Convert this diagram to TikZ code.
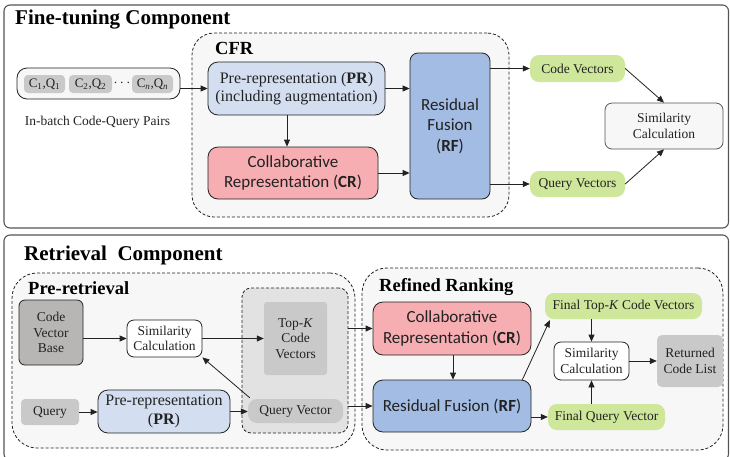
\documentclass[tikz,border=0pt]{standalone}
\usepackage{fontspec}
\setmainfont{Liberation Serif}
\newfontfamily\carl{Carlito}
\usetikzlibrary{arrows.meta,calc}
\definecolor{framec}{HTML}{555555}
\definecolor{linec}{HTML}{222222}
\definecolor{dashfill}{HTML}{F7F7F7}
\definecolor{boxgray}{HTML}{C9C9C9}
\definecolor{prblue}{HTML}{D3DFF0}
\definecolor{crpink}{HTML}{F7AEB3}
\definecolor{rfblue}{HTML}{A3BCE3}
\definecolor{vgreen}{HTML}{CFE79B}
\definecolor{topkfill}{HTML}{E2E2E2}
\definecolor{cvbgray}{HTML}{B8B6B4}
\newcommand{\fsmall}{\fontsize{13.5}{15.5}\selectfont}
\newcommand{\fmid}{\fontsize{16}{18.5}\selectfont}
\newcommand{\fsans}{\carl\fontsize{17}{20.5}\selectfont}
\newcommand{\ftitle}{\fontsize{21}{24}\selectfont\bfseries}
\newcommand{\fsub}{\fontsize{18.5}{21}\selectfont\bfseries}
\tikzset{
  frame/.style={draw=framec, line width=1.1pt, rounded corners=6pt, fill=white},
  dashbox/.style={draw=linec, dash pattern=on 3pt off 2pt, line width=0.8pt, fill=dashfill, rounded corners=22pt},
  base/.style={inner sep=0pt, align=center, text=linec, font=\fsmall},
  graybox/.style={base, fill=boxgray, rounded corners=4pt},
  prbox/.style={base, font=\fmid, fill=prblue, draw=linec, line width=0.8pt, rounded corners=10pt},
  crbox/.style={base, font=\fsans, fill=crpink, draw=linec, line width=0.8pt, rounded corners=10pt},
  rfbox/.style={base, font=\fsans, fill=rfblue, draw=linec, line width=0.8pt, rounded corners=8pt},
  greenbox/.style={base, fill=vgreen, rounded corners=9pt},
  simbox/.style={base, fill=white, draw=linec, line width=0.8pt, rounded corners=7pt},
  ttl/.style={inner sep=0pt, anchor=west, text=black, font=\ftitle},
  subttl/.style={inner sep=0pt, anchor=west, text=black, font=\fsub},
  arr/.style={draw=linec, line width=0.8pt, -{Triangle[length=7pt,width=6pt]}},
}
\begin{document}
\begin{tikzpicture}[x=1pt,y=-1pt]
\useasboundingbox (0,0) rectangle (730,456);
% ---------------- Fine-tuning component ----------------
\draw[frame] (4,5) rectangle (728.5,228);
\node[ttl] (t1) at (15,20) {Fine-tuning Component};
\node[dashbox, minimum width=317pt, minimum height=184pt, inner sep=0pt] (cfr) at (350.5,125) {};
\node[subttl] (cfrl) at (215,48) {CFR};

\node[base, draw=linec, line width=0.8pt, fill=dashfill, rounded corners=10pt, minimum width=163pt, minimum height=31pt] (pairs) at (98.5,83.5) {};
\node[graybox, font=\fontsize{13}{15}\selectfont, minimum width=41pt, minimum height=18pt] (c1) at (44.5,84) {C\textsubscript{1},Q\textsubscript{1}};
\node[graybox, font=\fontsize{13}{15}\selectfont, minimum width=43pt, minimum height=18pt] (c2) at (90.5,84) {C\textsubscript{2},Q\textsubscript{2}};
\node[base] (dots) at (122,83) {$\cdots$};
\node[graybox, font=\fontsize{13}{15}\selectfont, minimum width=41pt, minimum height=18pt] (cn) at (152.5,84) {C\textsubscript{\textit{n}},Q\textsubscript{\textit{n}}};
\node[base] (pairsl) at (97.5,122) {In-batch Code-Query Pairs};

\node[prbox, minimum width=177pt, minimum height=53pt] (pr1) at (296.5,88.5) {Pre-representation (\textbf{PR})\\(including augmentation)};
\node[crbox, minimum width=170pt, minimum height=52pt] (cr1) at (293,173) {Collaborative\\Representation (\textbf{CR})};
\node[rfbox, minimum width=80pt, minimum height=146pt] (rf1) at (450,126) {Residual\\Fusion\\(\textbf{RF})};
\node[greenbox, minimum width=95pt, minimum height=27pt] (cv1) at (577.5,68.5) {Code Vectors};
\node[greenbox, minimum width=95pt, minimum height=26pt] (qv1) at (577.5,184) {Query Vectors};
\node[simbox, fill=dashfill, draw=framec, minimum width=118pt, minimum height=46pt] (sim1) at (664,126) {Similarity\\Calculation};

\draw[arr] (pairs.east |- pr1.west) -- (pr1.west);
\draw[arr] ([xshift=-6pt]cr1.north |- pr1.south) -- ([xshift=-6pt]cr1.north);
\draw[arr] (pr1.east) -- (rf1.west |- pr1.east);
\draw[arr] (cr1.east) -- (rf1.west |- cr1.east);
\draw[arr] (rf1.east |- cv1.west) -- (cv1.west);
\draw[arr] (rf1.east |- qv1.west) -- (qv1.west);
\draw[arr] (cv1.east) -- (sim1.north);
\draw[arr] (qv1.east) -- (sim1.south);

% ---------------- Retrieval component ----------------
\draw[frame] (4,235) rectangle (728.5,460);
\node[ttl] (t2) at (24,255) {Retrieval\ \ Component};

\node[dashbox, rounded corners=25pt, minimum width=343pt, minimum height=175pt, inner sep=0pt] (pre) at (183.5,360.5) {};
\node[subttl] (prel) at (28,288) {Pre-retrieval};

\node[base, fill=cvbgray, draw=linec, line width=0.8pt, rounded corners=6pt, minimum width=64pt, minimum height=65pt] (cvb) at (51,332.5) {Code\\Vector\\Base};
\node[simbox, minimum width=75pt, minimum height=37pt] (sim2) at (164.5,338.5) {Similarity\\Calculation};
\node[dashbox, fill=topkfill, rounded corners=9pt, minimum width=106pt, minimum height=145pt, inner sep=0pt] (topkbox) at (295,360.5) {};
\node[graybox, rounded corners=3pt, minimum width=63pt, minimum height=73pt] (topk) at (295.5,338.5) {Top-\textit{K}\\Code\\Vectors};
\node[graybox, rounded corners=9pt, minimum width=95pt, minimum height=24pt] (qv2) at (295.5,411) {Query Vector};
\node[graybox, minimum width=58pt, minimum height=26pt] (query) at (50,412) {Query};
\node[prbox, minimum width=132pt, minimum height=43pt] (pr2) at (164,411.5) {Pre-representation\\(\textbf{PR})};

\draw[arr] (cvb.east |- sim2.west) -- (sim2.west);
\draw[arr] (sim2.east) -- (topk.west |- sim2.east);
\draw[arr] (query.east) -- (pr2.west |- query.east);
\draw[arr] (pr2.east) -- (qv2.west |- pr2.east);
\draw[arr] ([xshift=2pt,yshift=1pt]qv2.north west) -- (sim2.south east);

\node[dashbox, rounded corners=25pt, minimum width=361pt, minimum height=182pt, inner sep=0pt] (ref) at (542.5,359) {};
\node[subttl] (refl) at (379,287) {Refined Ranking};

\node[crbox, minimum width=158pt, minimum height=53pt] (cr2) at (452,328.5) {Collaborative\\Representation (\textbf{CR})};
\node[rfbox, rounded corners=10pt, minimum width=158pt, minimum height=52pt] (rf2) at (452,406) {Residual Fusion (\textbf{RF})};
\node[greenbox, minimum width=157pt, minimum height=26pt] (ftk) at (623.5,306) {Final Top-\textit{K} Code Vectors};
\node[greenbox, minimum width=117pt, minimum height=26pt] (fqv) at (606.5,417) {Final Query Vector};
\node[simbox, minimum width=75pt, minimum height=38pt] (sim3) at (591.5,361) {Similarity\\Calculation};
\node[graybox, rounded corners=5pt, minimum width=66pt, minimum height=52pt] (rcl) at (690,361) {Returned\\Code List};

\draw[arr] (topkbox.east |- cr2.west) -- (cr2.west);
\draw[arr] (topkbox.east |- rf2.west) -- (rf2.west);
\draw[arr] ([xshift=1pt]cr2.south) -- ([xshift=1pt]rf2.north);
\draw[arr] ([xshift=-9pt]rf2.north east) -- ([xshift=5pt,yshift=-1pt]ftk.south west);
\draw[arr] (rf2.east |- fqv.west) -- (fqv.west);
\draw[arr] (sim3.north |- ftk.south) -- (sim3.north);
\draw[arr] (sim3.south |- fqv.north) -- (sim3.south);
\draw[arr] (sim3.east) -- (rcl.west);
\end{tikzpicture}
\end{document}
